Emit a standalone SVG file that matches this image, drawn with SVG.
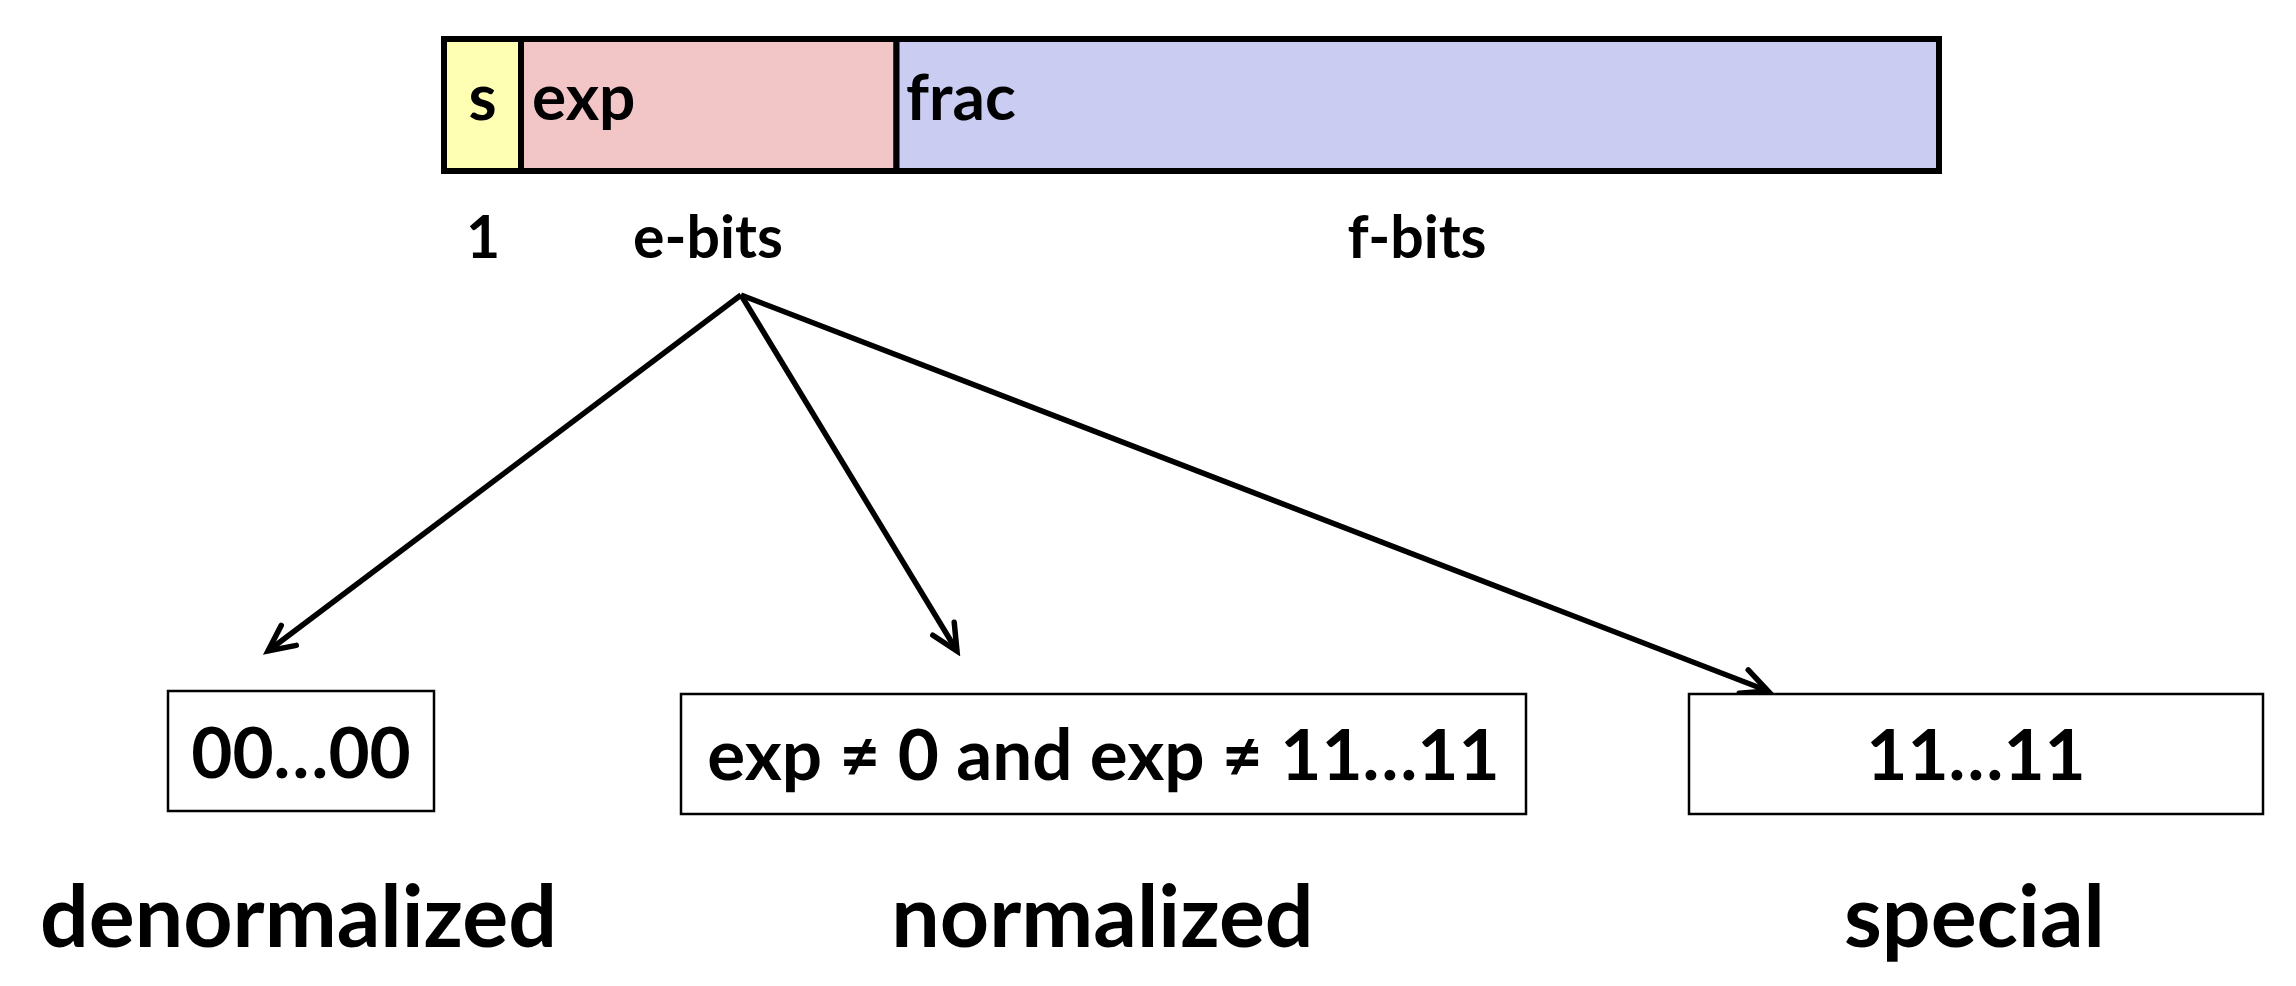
<svg xmlns="http://www.w3.org/2000/svg" width="2296" height="986" viewBox="0 0 2296 986">
<style>
text{font-family:Lato,"Open Sans","Liberation Sans",sans-serif;font-weight:bold;fill:#000}
.field{stroke:#000;stroke-width:6}
.box{fill:#fff;stroke:#000;stroke-width:2.5}
.conn{stroke:#000;stroke-width:5.5;fill:none}
.f64{font-size:64px}
.f56{font-size:59px}
.f71{font-size:71px}
.f84{font-size:86px}
.mid{text-anchor:middle}
</style>
<defs>
<marker id="arr" markerUnits="userSpaceOnUse" viewBox="-34 -18 40 36" markerWidth="40" markerHeight="36" refX="0" refY="0" orient="auto">
<path d="M-26,-12.5 L0,0 L-26,12.5" fill="none" stroke="#000" stroke-width="5.5" stroke-linecap="round" stroke-linejoin="miter"/>
</marker>
</defs>
<rect width="2296" height="986" fill="#fff"/>
<g id="field-s">
<rect class="field" x="444" y="39" width="77" height="132" fill="#FFFFB3"/>
<text class="f64 mid" x="482.5" y="120">s</text>
</g>
<g id="field-exp">
<rect class="field" x="521" y="39" width="375.5" height="132" fill="#F2C6C7"/>
<text class="f64" x="532" y="120">exp</text>
</g>
<g id="field-frac">
<rect class="field" x="896.5" y="39" width="1042.5" height="132" fill="#CACCF2"/>
<text class="f64" x="906" y="120">frac</text>
</g>
<g id="label-1"><text class="f56 mid" x="483" y="258">1</text></g>
<g id="label-ebits"><text class="f56 mid" x="708" y="258">e-bits</text></g>
<g id="label-fbits"><text class="f56 mid" x="1417" y="258">f-bits</text></g>
<g id="connectors">
<line class="conn" x1="741" y1="295" x2="268" y2="651" marker-end="url(#arr)"/>
<line class="conn" x1="741" y1="295" x2="957" y2="651" marker-end="url(#arr)"/>
<line class="conn" x1="741" y1="295" x2="1768" y2="691" marker-end="url(#arr)"/>
</g>
<g id="denormalized">
<rect class="box" x="168" y="691" width="266" height="120"/>
<text class="f71 mid" x="301" y="778">00…00</text>
<text class="f84 mid" x="298.5" y="947">denormalized</text>
</g>
<g id="normalized">
<rect class="box" x="681" y="694" width="845" height="120"/>
<text class="f71 mid" x="1103.5" y="780">exp ≠ 0 and exp ≠ 11…11</text>
<text class="f84 mid" x="1102.5" y="947">normalized</text>
</g>
<g id="special">
<rect class="box" x="1689" y="694" width="574" height="120"/>
<text class="f71 mid" x="1976" y="780">11…11</text>
<text class="f84 mid" x="1974.5" y="947">special</text>
</g>
</svg>
